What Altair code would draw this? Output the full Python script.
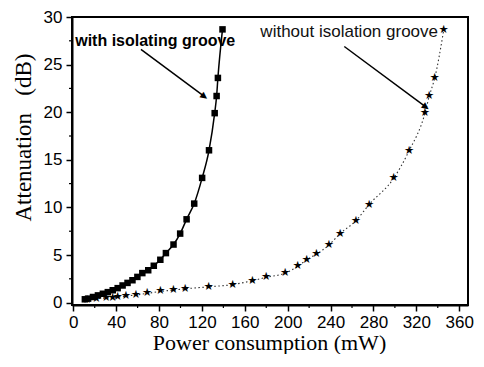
import altair as alt
import pandas as pd

# --- data ---
with_power = [10.8, 13.8, 18.4, 23.0, 27.6, 32.2, 36.8, 41.4, 46.0, 50.6, 55.2, 59.8,
              64.4, 69.9, 75.1, 81.2, 86.4, 93.5, 99.7, 105.7, 112.8, 120.2, 126.6,
              131.9, 133.7, 134.9, 139.2]
with_att = [0.35, 0.42, 0.59, 0.76, 0.93, 1.10, 1.30, 1.52, 1.80, 2.07, 2.35, 2.70,
            3.10, 3.40, 3.87, 4.50, 5.20, 6.10, 7.25, 8.75, 10.4, 13.1, 16.0,
            19.9, 21.7, 23.6, 28.7]

without_power = [12.9, 21.5, 30.7, 36.8, 41.4, 49.1, 58.3, 69.0, 81.3, 93.5, 104.3,
                 126.3, 148.7, 167.0, 180.0, 197.7, 209.4, 217.7, 226.9, 238.5, 248.9,
                 263.6, 275.9, 298.9, 313.3, 328.0, 332.0, 337.2, 345.5]
without_att = [0.28, 0.42, 0.49, 0.52, 0.59, 0.69, 0.80, 0.97, 1.18, 1.32, 1.45,
               1.66, 1.90, 2.30, 2.66, 3.10, 3.80, 4.50, 5.10, 6.05, 7.25,
               8.60, 10.3, 13.06, 15.96, 19.87, 21.66, 23.6, 28.6]

label_text = ["with isolating groove", "without isolation groove"]
label_x = [1.8, 174.5]
label_y = [27.5, 28.45]

arrow_x1 = [63.1, 252.8]
arrow_y1 = [26.6, 26.9]
arrow_x2 = [122.8, 329.4]
arrow_y2 = [21.6, 20.5]

x_major = list(range(0, 361, 40))
x_minor = list(range(20, 361, 40))
y_major = list(range(0, 31, 5))
y_minor = [2.5, 7.5, 12.5, 17.5, 22.5, 27.5]

W, H = 396, 288

df_with = pd.DataFrame({"p": with_power, "a": with_att})
df_without = pd.DataFrame({"p": without_power, "a": without_att})
df_lab1 = pd.DataFrame({"lx": label_x[:1], "ly": label_y[:1], "t": label_text[:1]})
df_lab2 = pd.DataFrame({"lx": label_x[1:], "ly": label_y[1:], "t": label_text[1:]})
df_arr = pd.DataFrame({"x1": arrow_x1, "y1": arrow_y1, "x2": arrow_x2, "y2": arrow_y2})
df_xminor = pd.DataFrame({"p": x_minor})
df_yminor = pd.DataFrame({"a": y_minor})

xscale = alt.Scale(domain=[-1.2, 368.2], nice=False, zero=False)
yscale = alt.Scale(domain=[-0.25, 30], nice=False, zero=False)

xaxis = alt.Axis(
    values=x_major, format="d", tickSize=6,
    title="Power consumption (mW)",
    titleFont="Liberation Serif", titleFontSize=22, titleFontWeight="normal", titleColor="black",
    titleX=197, titleY=44, titleBaseline="alphabetic", titleAlign="center",
    labelFont="Liberation Sans", labelFontSize=17, labelPadding=3, labelColor="black",
    grid=False, domainColor="black", domainWidth=2, tickColor="black", tickWidth=1.5,
    labelFlush=False, labelOverlap=False,
)
yaxis = alt.Axis(
    values=y_major, format="d", tickSize=6,
    title="Attenuation\u00a0\u00a0\u00a0(dB)",
    titleFont="Liberation Serif", titleFontSize=23, titleFontWeight="normal", titleColor="black",
    titleAngle=270, titleX=-49, titleY=120, titleBaseline="middle", titleAlign="center",
    labelFont="Liberation Sans", labelFontSize=17, labelPadding=4, labelColor="black",
    grid=False, domainColor="black", domainWidth=2, tickColor="black", tickWidth=1.5,
    labelFlush=False, labelOverlap=False,
)

line_with = alt.Chart(df_with).mark_line(color="black", strokeWidth=1.5, interpolate="monotone").encode(
    x=alt.X("p:Q", scale=xscale, axis=xaxis), y=alt.Y("a:Q", scale=yscale, axis=yaxis))
# square markers drawn as square ticks
pts_with = alt.Chart(df_with).mark_tick(orient="vertical", thickness=6.5, size=6.5, color="black", opacity=1).encode(
    x="p:Q", y="a:Q")

line_without = alt.Chart(df_without).mark_line(color="#333333", strokeWidth=1.1, strokeDash=[1.5, 2.5],
                                               interpolate="monotone").encode(x="p:Q", y="a:Q")
# star markers drawn as star glyphs
pts_without = alt.Chart(df_without).mark_text(text="\u2605", font="DejaVu Sans", fontSize=11.5, color="black",
                                              align="center", baseline="middle").encode(x="p:Q", y="a:Q")

labels_bold = alt.Chart(df_lab1).mark_text(
    align="left", baseline="middle", font="Liberation Sans", fontSize=16, fontWeight="bold", color="black"
).encode(x="lx:Q", y="ly:Q", text="t:N")
labels_norm = alt.Chart(df_lab2).mark_text(
    align="left", baseline="middle", font="Liberation Sans", fontSize=17, fontWeight="normal", color="#111111"
).encode(x="lx:Q", y="ly:Q", text="t:N")

arrows = alt.Chart(df_arr).mark_rule(color="black", strokeWidth=1.5).encode(
    x="x1:Q", y="y1:Q", x2="x2:Q", y2="y2:Q")
heads = alt.Chart(df_arr).mark_text(
    text="\u25b2", font="DejaVu Sans", fontSize=9, color="black", angle=127,
    align="center", baseline="middle"
).encode(x="x2:Q", y="y2:Q")

xminor = alt.Chart(df_xminor).mark_rule(color="black", strokeWidth=1.2).encode(
    x="p:Q", y=alt.value(H), y2=alt.value(H + 3))
yminor = alt.Chart(df_yminor).mark_rule(color="black", strokeWidth=1.2).encode(
    y="a:Q", x=alt.value(0), x2=alt.value(-3))

chart = alt.layer(line_with, line_without, pts_without, pts_with, arrows, heads,
                  labels_bold, labels_norm, xminor, yminor).properties(
    width=W, height=H,
    background="white",
    autosize=alt.AutoSizeParams(type="none"),
    padding={"left": 64, "top": 9, "right": 8, "bottom": 49},
).configure_view(stroke="black", strokeWidth=2)

chart.save("out.html", embed_options={"renderer": "svg", "actions": False})
